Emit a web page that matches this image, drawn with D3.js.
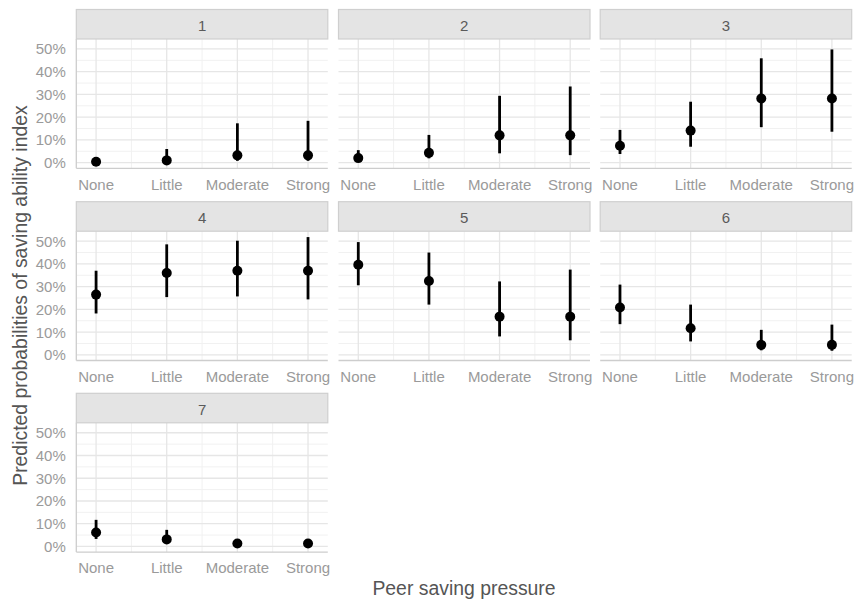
<!DOCTYPE html>
<html>
<head>
<meta charset="utf-8">
<script src="https://cdn.jsdelivr.net/npm/d3@7"></script>
<style>
  html, body { margin: 0; padding: 0; background: #ffffff; }
  svg { display: block; font-family: "Liberation Sans", Arial, Helvetica, sans-serif; }
</style>
</head>
<body>
<svg id="chart" width="855" height="601"></svg>
<script>
// ---- data ----
const categories = ["None", "Little", "Moderate", "Strong"];
const panelLabels = ["1", "2", "3", "4", "5", "6", "7"];
const estimate = [
  [0.004, 0.010, 0.032, 0.032],
  [0.020, 0.043, 0.120, 0.120],
  [0.074, 0.141, 0.282, 0.282],
  [0.265, 0.360, 0.370, 0.370],
  [0.396, 0.325, 0.168, 0.168],
  [0.208, 0.117, 0.044, 0.044],
  [0.061, 0.031, 0.013, 0.013]
];
const lower = [
  [0.001, 0.002, 0.008, 0.008],
  [0.006, 0.019, 0.041, 0.033],
  [0.038, 0.070, 0.156, 0.136],
  [0.182, 0.254, 0.257, 0.244],
  [0.306, 0.221, 0.081, 0.064],
  [0.135, 0.059, 0.020, 0.018],
  [0.033, 0.015, 0.005, 0.005]
];
const upper = [
  [0.015, 0.060, 0.173, 0.184],
  [0.055, 0.122, 0.294, 0.335],
  [0.144, 0.268, 0.459, 0.498],
  [0.370, 0.486, 0.502, 0.518],
  [0.496, 0.450, 0.323, 0.375],
  [0.309, 0.221, 0.110, 0.133],
  [0.117, 0.073, 0.025, 0.025]
];
const yTicks = [0, 0.1, 0.2, 0.3, 0.4, 0.5];
const yMinor = [0.05, 0.15, 0.25, 0.35, 0.45];
const xTitle = "Peer saving pressure";
const yTitle = "Predicted probabilities of saving ability index";

// ---- layout ----
const svg = d3.select("#chart");
const ncol = 3;
const colX = [76.3, 338.5, 600.2];
const rowY = [9.5, 201.7, 393.3];   // strip tops
const panelW = 251.5;
const stripH = 29.5;
const panelH = 129.3;

// shared y domain from data with 5% expansion
const yMin = d3.min(lower.flat()), yMax = d3.max(upper.flat());
const ySpan = yMax - yMin;
const yDomain = [yMin - 0.05 * ySpan, yMax + 0.05 * ySpan];

const xPad = 0.28;
const pctFmt = d3.format(".0%");

panelLabels.forEach((lab, i) => {
  const r = Math.floor(i / ncol), c = i % ncol;
  const x0 = colX[c], sTop = rowY[r], pTop = sTop + stripH;
  const g = svg.append("g").attr("transform", `translate(${x0},${pTop})`);

  const x = d3.scaleLinear().domain([-xPad, categories.length - 1 + xPad]).range([0, panelW]);
  const y = d3.scaleLinear().domain(yDomain).range([panelH, 0]);

  // minor gridlines
  yMinor.forEach(v => {
    g.append("line").attr("x1", 0).attr("x2", panelW).attr("y1", y(v)).attr("y2", y(v))
      .attr("stroke", "#f1f1f1").attr("stroke-width", 1);
  });
  [0.5, 1.5, 2.5].forEach(v => {
    g.append("line").attr("x1", x(v)).attr("x2", x(v)).attr("y1", 0).attr("y2", panelH)
      .attr("stroke", "#f1f1f1").attr("stroke-width", 1);
  });
  // major gridlines
  yTicks.forEach(v => {
    g.append("line").attr("x1", 0).attr("x2", panelW).attr("y1", y(v)).attr("y2", y(v))
      .attr("stroke", "#e6e6e6").attr("stroke-width", 1.3);
  });
  categories.forEach((cat, k) => {
    g.append("line").attr("x1", x(k)).attr("x2", x(k)).attr("y1", 0).attr("y2", panelH)
      .attr("stroke", "#e6e6e6").attr("stroke-width", 1.3);
  });

  // axis lines
  g.append("line").attr("x1", 0).attr("x2", panelW).attr("y1", panelH).attr("y2", panelH)
    .attr("stroke", "#cdcdcd").attr("stroke-width", 1.3);
  if (c === 0) {
    g.append("line").attr("x1", 0).attr("x2", 0).attr("y1", 0).attr("y2", panelH)
      .attr("stroke", "#cdcdcd").attr("stroke-width", 1.3);
    // y tick labels
    yTicks.forEach(v => {
      g.append("text").attr("x", -10.5).attr("y", y(v)).attr("dy", "0.36em")
        .attr("text-anchor", "end").attr("font-size", 15).attr("fill", "#9a9a9a")
        .text(pctFmt(v));
    });
  }
  // x tick labels
  categories.forEach((cat, k) => {
    g.append("text").attr("x", x(k)).attr("y", panelH + 21.3)
      .attr("text-anchor", "middle").attr("font-size", 15).attr("fill", "#9a9a9a")
      .text(cat);
  });

  // strip
  svg.append("rect").attr("x", x0).attr("y", sTop).attr("width", panelW).attr("height", stripH)
    .attr("fill", "#e4e4e4").attr("stroke", "#cfcfcf").attr("stroke-width", 1.2);
  svg.append("text").attr("x", x0 + panelW / 2).attr("y", sTop + 21.3)
    .attr("text-anchor", "middle").attr("font-size", 15).attr("fill", "#5a5a5a").text(lab);

  // error bars
  categories.forEach((cat, k) => {
    g.append("line").attr("x1", x(k)).attr("x2", x(k))
      .attr("y1", y(lower[i][k])).attr("y2", y(upper[i][k]))
      .attr("stroke", "#000").attr("stroke-width", 2.8);
  });
  // points
  categories.forEach((cat, k) => {
    g.append("circle").attr("cx", x(k)).attr("cy", y(estimate[i][k])).attr("r", 5)
      .attr("fill", "#000");
  });
});

// axis titles
svg.append("text").attr("x", (colX[0] + colX[2] + panelW) / 2).attr("y", 595)
  .attr("text-anchor", "middle").attr("font-size", 19.4).attr("fill", "#555555").text(xTitle);
svg.append("text")
  .attr("transform", `translate(27, ${(rowY[0] + stripH + rowY[2] + stripH + panelH) / 2}) rotate(-90)`)
  .attr("text-anchor", "middle").attr("font-size", 19.4).attr("fill", "#555555").text(yTitle);
</script>
</body>
</html>
